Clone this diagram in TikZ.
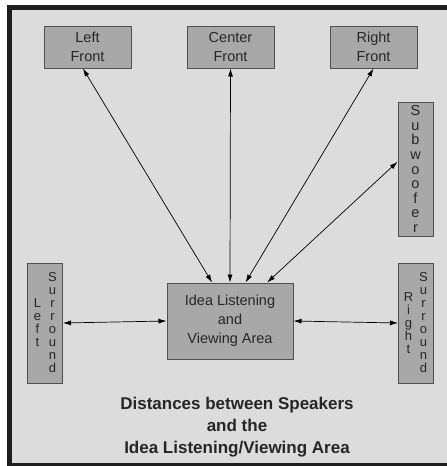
\documentclass[tikz,border=0pt]{standalone}
\usepackage{fontspec}
\setmainfont{Liberation Sans}
\usetikzlibrary{arrows.meta,positioning}
\definecolor{bggray}{HTML}{DCDCDC}
\definecolor{boxgray}{HTML}{A8A8A8}
\definecolor{edgegray}{HTML}{505050}
\definecolor{framegray}{HTML}{1E1E1E}

\begin{document}
\begin{tikzpicture}[
  x=1pt,y=-1pt,
  >={Latex[length=8pt,width=5pt]},
  spk/.style={draw=edgegray,fill=boxgray,line width=1pt,inner sep=0pt,
    align=center,text=black!85,font=\fontsize{14.5}{19}\selectfont},
  front/.style={spk,minimum width=87pt,minimum height=42pt},
  tall/.style={spk,minimum width=35pt},
  node distance=55pt,
  ]
  \useasboundingbox (0,0) rectangle (447,466);
  \fill[framegray] (7,5) rectangle (452,470);
  \fill[bggray] (12,10) rectangle (452,463);

  \node[front] (lf) at (87.5,47) {Left\\Front};
  \node[front, right = of lf] (cf) {Center\\Front};
  \node[front, right = of cf] (rf) {Right\\Front};
  \node[tall, minimum height=134pt, font=\fontsize{14.5}{14.6}\selectfont] (sub) at (415.5,169)
    {S\\u\\b\\w\\o\\o\\f\\e\\r};
  \node[tall, minimum height=120pt, font=\fontsize{13}{13}\selectfont] (ls) at (45,323)
    {\parbox[c]{10pt}{\centering L\\e\\f\\t}\hspace{5pt}\parbox[c]{10pt}{\centering S\\u\\r\\r\\o\\u\\n\\d}};
  \node[tall, minimum height=120pt, font=\fontsize{13}{13}\selectfont] (rs) at (416,323)
    {\parbox[c]{10pt}{\centering R\\i\\g\\h\\t}\hspace{5pt}\parbox[c]{10pt}{\centering S\\u\\r\\r\\o\\u\\n\\d}};
  \node[spk, minimum width=126pt, minimum height=76pt] (area) at (230,321)
    {Idea Listening\\and\\Viewing Area};
  \node[align=center, text=black!85, font=\bfseries\fontsize{17}{22}\selectfont] (title) at (237,427)
    {Distances between Speakers\\and the\\Idea Listening/Viewing Area};

  \draw [<->, line width=0.7pt] (lf.258) -- (area.115);
  \draw [<->, line width=0.7pt] (cf.south) -- (area.north);
  \draw [<->, line width=0.7pt] (rf.south) -- (area.68);
  \draw [<->, line width=0.7pt] (sub.158) -- (area.46);
  \draw [<->, line width=0.7pt] (ls.east) -- (area.west);
  \draw [<->, line width=0.7pt] (area.east) -- (rs.west);
\end{tikzpicture}
\end{document}
